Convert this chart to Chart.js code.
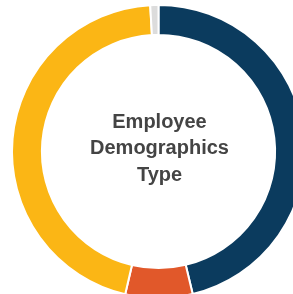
<!DOCTYPE html>
<html>
<head>
<meta charset="utf-8">
<script src="https://cdn.jsdelivr.net/npm/chart.js@4"></script>
<style>
  html, body { margin: 0; padding: 0; background: #fff; overflow: hidden; }
  #wrap { position: relative; width: 317px; height: 303px; }
</style>
</head>
<body>
<div id="wrap"><canvas id="chart" width="317" height="303"></canvas></div>
<script>
const labels = ['Type A', 'Type B', 'Type C', 'Other'];
const values = [46.25, 7.4, 45.45, 0.9];
const colors = ['#0b3b5e', '#e1582a', '#fbb615', '#dcdcdc'];
const centerLines = ['Employee', 'Demographics', 'Type'];

// draws the title in the hole of the ring
const centerText = {
  id: 'centerText',
  afterDraw(chart) {
    const { ctx, chartArea } = chart;
    const cx = (chartArea.left + chartArea.right) / 2 + 1;
    const cy = (chartArea.top + chartArea.bottom) / 2 - 3;
    ctx.save();
    ctx.font = 'bold 20px "Liberation Sans", Arial, sans-serif';
    ctx.fillStyle = '#444444';
    ctx.textAlign = 'center';
    ctx.textBaseline = 'middle';
    const lh = 26.5;
    centerLines.forEach((t, i) => {
      ctx.fillText(t, cx, cy + (i - 1) * lh);
    });
    ctx.restore();
  }
};

new Chart(document.getElementById('chart'), {
  type: 'doughnut',
  data: {
    labels: labels,
    datasets: [{
      data: values,
      backgroundColor: colors,
      borderColor: '#ffffff',
      borderWidth: 2
    }]
  },
  options: {
    responsive: false,
    animation: false,
    cutout: '79.6%',
    layout: { padding: 4 },
    plugins: {
      legend: { display: false },
      tooltip: { enabled: false }
    }
  },
  plugins: [centerText]
});
</script>
</body>
</html>
